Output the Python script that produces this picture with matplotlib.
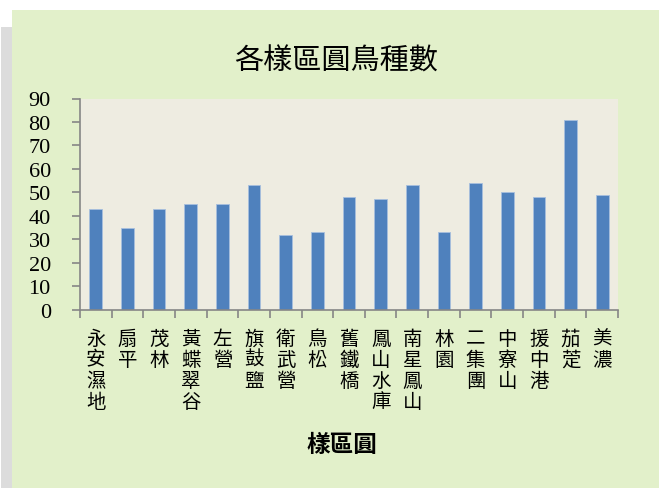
import matplotlib.pyplot as plt
from matplotlib.patches import Rectangle

plt.rcParams['font.family'] = ['Noto Sans CJK TC', 'DejaVu Sans']

# sample sites and bird species counts
sites = ['永安濕地', '扇平', '茂林', '黃蝶翠谷', '左營', '旗鼓鹽', '衛武營', '鳥松', '舊鐵橋',
         '鳳山水庫', '南星鳳山', '林園', '二集團', '中寮山', '援中港', '茄萣', '美濃']
species = [43, 35, 43, 45, 45, 53, 32, 33, 48, 47, 53, 33, 54, 50, 48, 81, 49]
yticks = list(range(0, 91, 10))

W, H = 659, 489
fig = plt.figure(figsize=(W / 100, H / 100), dpi=100)
fig.patch.set_facecolor('white')

# chart area (green panel) with a soft shadow on the left
fig.patches.append(Rectangle((1 / W, 0), 11 / W, 1 - 28 / H, transform=fig.transFigure,
                             facecolor='#dcdcdc', edgecolor='none', zorder=-10))
fig.patches.append(Rectangle((12 / W, 0), 1, 1 - 11 / H, transform=fig.transFigure,
                             facecolor='#e2f0ca', edgecolor='none', zorder=-10))

ax = fig.add_axes([80 / W, 1 - 310.7 / H, (618 - 80) / W, (310.7 - 99.5) / H])
ax.set_zorder(5)
ax.set_facecolor('#eeece1')

x = list(range(len(sites)))
ax.bar(x, species, width=0.4, color='#4f81bd', edgecolor='#a7bfde', linewidth=0.6, zorder=2)

ax.set_xlim(-0.5, len(sites) - 0.5)
ax.set_ylim(0, 90)
ax.set_yticks(yticks)
ax.set_yticklabels([str(v) for v in yticks], family='Liberation Serif', fontsize=16)
ax.tick_params(axis='y', length=6, width=1.2, color='#868686', pad=15, direction='out')

ax.set_xticks(x)
ax.set_xticklabels(['\n'.join(s) for s in sites], fontsize=14, linespacing=1.0)
ax.tick_params(axis='x', length=0, pad=13)
ax.set_xticks([i - 0.5 for i in range(len(sites) + 1)], minor=True)
ax.tick_params(axis='x', which='minor', length=6, width=1.2, color='#868686', direction='out')

for side in ['top', 'right']:
    ax.spines[side].set_visible(False)
for side in ['left', 'bottom']:
    ax.spines[side].set_color('#868686')
    ax.spines[side].set_linewidth(1.2)

fig.text(336 / W, 1 - 62 / H, '各樣區圓鳥種數', ha='center', va='center', fontsize=21)
fig.text(342 / W, 1 - 445 / H, '樣區圓', ha='center', va='center', fontsize=17, fontweight='bold')

fig.savefig('out.png', dpi=100, facecolor=fig.get_facecolor())
